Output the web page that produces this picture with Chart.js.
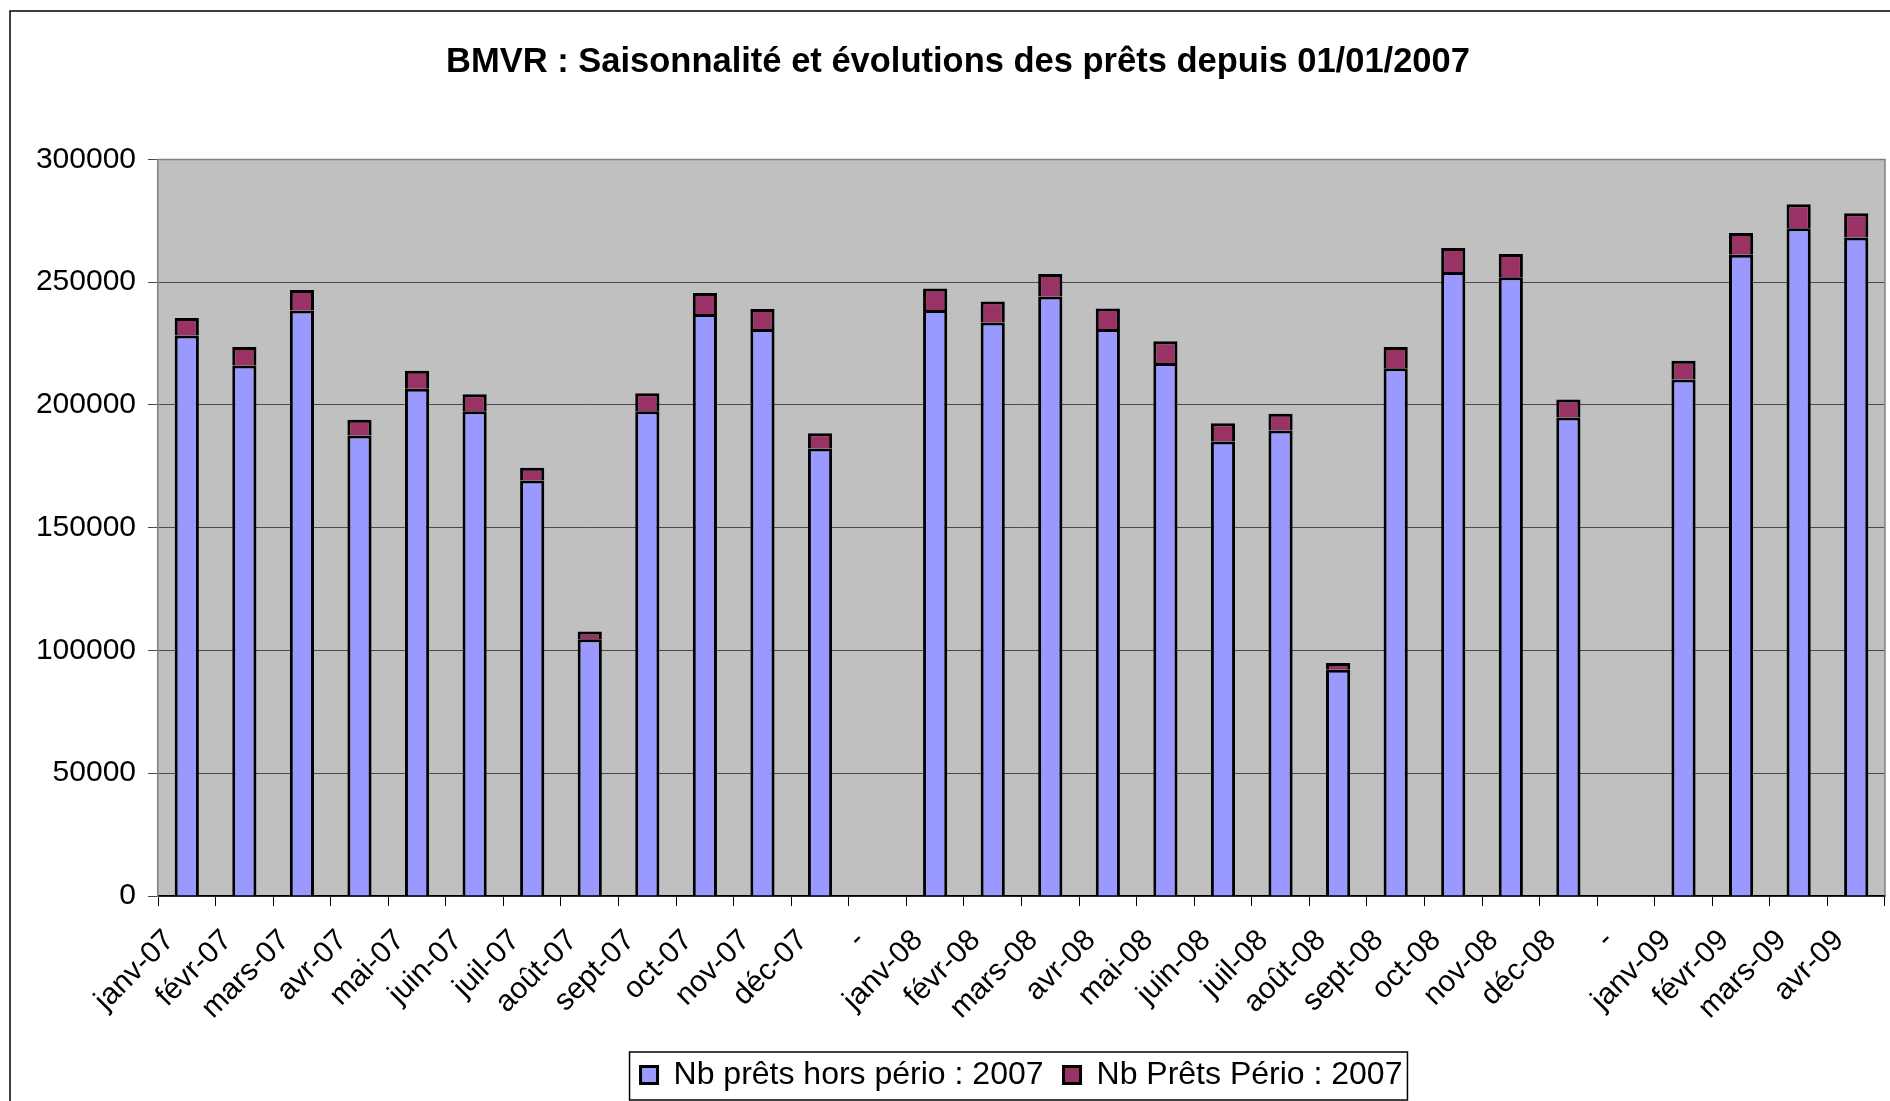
<!DOCTYPE html>
<html lang="fr">
<head>
<meta charset="utf-8">
<title>BMVR : Saisonnalité et évolutions des prêts depuis 01/01/2007</title>
<script src="https://cdn.jsdelivr.net/npm/chart.js@4.4.1/dist/chart.umd.min.js"></script>
<style>
  html, body { margin: 0; padding: 0; background: #fff; overflow: hidden; }
  #chart-wrap { position: relative; width: 1890px; height: 1101px; }
</style>
</head>
<body>
<div id="chart-wrap"><canvas id="bmvr-canvas"></canvas></div>
<script>
// ─── Données ───────────────────────────────────────────────────────────────
const MOIS = [
  'janv-07', 'févr-07', 'mars-07', 'avr-07', 'mai-07', 'juin-07',
  'juil-07', 'août-07', 'sept-07', 'oct-07', 'nov-07', 'déc-07',
  '-',
  'janv-08', 'févr-08', 'mars-08', 'avr-08', 'mai-08', 'juin-08',
  'juil-08', 'août-08', 'sept-08', 'oct-08', 'nov-08', 'déc-08',
  '-',
  'janv-09', 'févr-09', 'mars-09', 'avr-09'
];

// prêts hors périodiques
const PRETS_HORS_PERIO = [
  228300, 216100, 238500, 187600, 206600, 197400,
  169200, 104600, 197400, 237000, 230900, 182300,
  null,
  238700, 233600, 244200, 230900, 217100, 185100,
  189600, 92100, 214900, 254100, 252000, 194900,
  null,
  210400, 261200, 272000, 268200
];

// prêts périodiques (empilés au-dessus)
const PRETS_PERIO = [
  7100, 7500, 8300, 6400, 7300, 7000,
  5200, 3100, 7400, 8600, 8200, 6200,
  null,
  8700, 8500, 9100, 8400, 8800, 7400,
  6800, 2800, 8700, 9800, 9500, 7300,
  null,
  7600, 8800, 9700, 9900
];

const Y_TICKS = [0, 50000, 100000, 150000, 200000, 250000, 300000];

const TITRE = 'BMVR : Saisonnalité et évolutions des prêts depuis 01/01/2007';
const LABEL_HORS_PERIO = 'Nb prêts hors pério : 2007';
const LABEL_PERIO = 'Nb Prêts Pério : 2007';

(function() {
  'use strict';

  const FONT = "'Liberation Sans', Arial, sans-serif";
  const BLEU = '#9999FF';
  const PRUNE = '#993366';
  const FOND_TRACE = '#C0C0C0';

  // ─── Cadre extérieur + fond gris de la zone de tracé ─────────────────────
  const fondPlugin = {
    id: 'fond',
    beforeDraw: function(chart) {
      const ctx = chart.ctx;
      const a = chart.chartArea;
      ctx.save();
      ctx.fillStyle = '#fff';
      ctx.fillRect(0, 0, chart.width, chart.height);
      ctx.fillStyle = FOND_TRACE;
      ctx.fillRect(a.left, a.top, a.right - a.left, a.bottom - a.top);
      ctx.strokeStyle = '#000';
      ctx.lineWidth = 1.5;
      ctx.strokeRect(10, 11, chart.width + 50, chart.height + 50);
      ctx.restore();
    },
    beforeDatasetsDraw: function(chart) {
      const ctx = chart.ctx;
      const a = chart.chartArea;
      ctx.save();
      ctx.strokeStyle = '#808080';
      ctx.lineWidth = 1.5;
      ctx.beginPath();
      ctx.moveTo(a.left, a.top);
      ctx.lineTo(a.right, a.top);
      ctx.lineTo(a.right, a.bottom);
      ctx.stroke();
      ctx.restore();
    }
  };

  // ─── Encadré de la légende ───────────────────────────────────────────────
  const cadreLegende = {
    id: 'cadreLegende',
    afterDraw: function(chart) {
      const lg = chart.legend;
      if (!lg || !lg.legendHitBoxes || !lg.legendHitBoxes.length) return;
      const hb = lg.legendHitBoxes;
      const first = hb[0];
      const last = hb[hb.length - 1];
      const x0 = first.left - 11;
      const x1 = last.left + last.width + 5;
      const y0 = first.top - 7;
      const y1 = first.top + first.height + 9;
      const ctx = chart.ctx;
      ctx.save();
      ctx.strokeStyle = '#000';
      ctx.lineWidth = 1.5;
      ctx.strokeRect(x0, y0, x1 - x0, y1 - y0);
      ctx.restore();
    }
  };

  const ctx = document.getElementById('bmvr-canvas').getContext('2d');
  new Chart(ctx, {
    type: 'bar',
    data: {
      labels: MOIS,
      datasets: [
        {
          label: LABEL_HORS_PERIO,
          data: PRETS_HORS_PERIO,
          backgroundColor: BLEU,
          borderColor: '#000',
          borderWidth: 3,
          barPercentage: 0.42,
          categoryPercentage: 1.0,
        },
        {
          label: LABEL_PERIO,
          data: PRETS_PERIO,
          backgroundColor: PRUNE,
          borderColor: '#000',
          borderWidth: 3,
          barPercentage: 0.42,
          categoryPercentage: 1.0,
        },
      ],
    },
    options: {
      responsive: true,
      maintainAspectRatio: false,
      animation: false,
      layout: { padding: { left: 31, right: 5, top: 0, bottom: 0 } },
      plugins: {
        title: {
          display: true,
          text: TITRE,
          color: '#000',
          font: { family: FONT, size: 34.5, weight: 'bold' },
          padding: { top: 42, bottom: 76 },
        },
        legend: {
          position: 'bottom',
          fullSize: false,
          labels: {
            color: '#000',
            font: { family: FONT, size: 32 },
            boxWidth: 17,
            boxHeight: 17,
            padding: 20,
          },
        },
        tooltip: { enabled: false },
      },
      scales: {
        x: {
          stacked: true,
          offset: true,
          grid: {
            display: true,
            drawOnChartArea: false,
            drawTicks: true,
            tickLength: 10,
            offset: true,
            color: '#000',
          },
          border: { display: true, color: '#000', width: 1.5 },
          ticks: {
            autoSkip: false,
            maxRotation: 45,
            minRotation: 45,
            padding: 17,
            labelOffset: -17,
            color: '#000',
            font: { family: FONT, size: 30 },
          },
          afterFit: function(scale) {
            scale.height = 143;
            scale.paddingRight = 0;
          },
        },
        y: {
          stacked: true,
          min: 0,
          max: 300000,
          grid: {
            color: '#4a4a4a',
            lineWidth: 1,
            drawTicks: true,
            tickLength: 10,
          },
          border: { display: true, color: '#808080', width: 1.5 },
          ticks: {
            padding: 12,
            color: '#000',
            font: { family: FONT, size: 30 },
            callback: function(value) { return String(value); },
          },
          afterBuildTicks: function(scale) {
            scale.ticks = Y_TICKS.map(function(v) { return { value: v }; });
          },
          afterFit: function(scale) { scale.width = 127; },
        },
      },
    },
    plugins: [fondPlugin, cadreLegende],
  });
})();
</script>
</body>
</html>
